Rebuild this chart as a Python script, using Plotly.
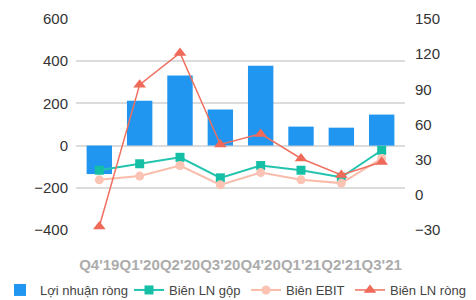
import plotly.graph_objects as go

categories = ["Q4'19", "Q1'20", "Q2'20", "Q3'20", "Q4'20", "Q1'21", "Q2'21", "Q3'21"]
loi_nhuan_rong = [-135, 213, 332, 171, 379, 90, 85, 147]
bien_ln_gop = [21, 26.5, 32, 14.5, 25, 21, 15, 38]
bien_ebit = [12.8, 16, 25, 8.5, 19, 12.8, 10, 31]
bien_ln_rong = [-27, 94, 121, 43, 52, 31, 17, 28]

FONT = "Liberation Sans, Arial, sans-serif"

fig = go.Figure()
fig.add_trace(go.Bar(
    x=categories, y=loi_nhuan_rong, name="Lợi nhuận ròng", legend="legend",
    marker=dict(color="#2196f0", line=dict(width=0)), width=0.63,
))
fig.add_trace(go.Scatter(
    x=categories, y=bien_ln_gop, name="Biên LN gộp", yaxis="y2", legend="legend2",
    mode="lines+markers", line=dict(color="#22c4ae", width=2),
    marker=dict(symbol="square", size=9, color="#14bfa6"),
))
fig.add_trace(go.Scatter(
    x=categories, y=bien_ebit, name="Biên EBIT", yaxis="y2", legend="legend3",
    mode="lines+markers", line=dict(color="#f9bcaa", width=2),
    marker=dict(symbol="circle", size=9, color="#fbc3b3"),
))
fig.add_trace(go.Scatter(
    x=categories, y=bien_ln_rong, name="Biên LN ròng", yaxis="y2", legend="legend4",
    mode="lines+markers", line=dict(color="#f0705f", width=1.5),
    marker=dict(symbol="triangle-up", size=11, color="#ef6a58"),
))

def leg(xpx):
    return dict(orientation="h", xref="container", yref="container",
                x=xpx / 476, xanchor="left", y=(300 - 275) / 300, yanchor="top",
                font=dict(size=13, color="#444", family=FONT),
                bgcolor="rgba(0,0,0,0)", borderwidth=0)

fig.update_layout(
    width=476, height=300,
    margin=dict(l=76, r=71, t=19, b=70, autoexpand=False),
    paper_bgcolor="white", plot_bgcolor="white",
    font=dict(family=FONT, size=14, color="#333"),
    bargap=0.37,
    showlegend=True,
    legend=leg(0),
    legend2=leg(129),
    legend3=leg(246),
    legend4=leg(350),
    xaxis=dict(showgrid=False, showline=False, zeroline=False, ticks="",
               tickangle=0, automargin=False,
               tickfont=dict(size=15, color="#acacac", family="Liberation Sans", weight="bold"),
               ticklabelstandoff=24),
    yaxis=dict(range=[-400, 600], tickvals=[-400, -200, 0, 200, 400, 600],
               showgrid=True, gridcolor="#dcdcdc", gridwidth=2, automargin=False,
               zeroline=True, zerolinecolor="#dcdcdc", zerolinewidth=2,
               showline=False, ticks="", ticklabelstandoff=7,
               tickfont=dict(size=15, color="#333")),
    yaxis2=dict(range=[-30, 150], tickvals=[-30, 0, 30, 60, 90, 120, 150],
                overlaying="y", side="right", showgrid=False, zeroline=False,
                showline=False, ticks="", ticklabelstandoff=9, automargin=False,
                tickfont=dict(size=15, color="#333")),
)

fig.write_html("out.html", config={"displayModeBar": False},
               post_script="document.body.style.margin='0';document.body.style.padding='0';")
